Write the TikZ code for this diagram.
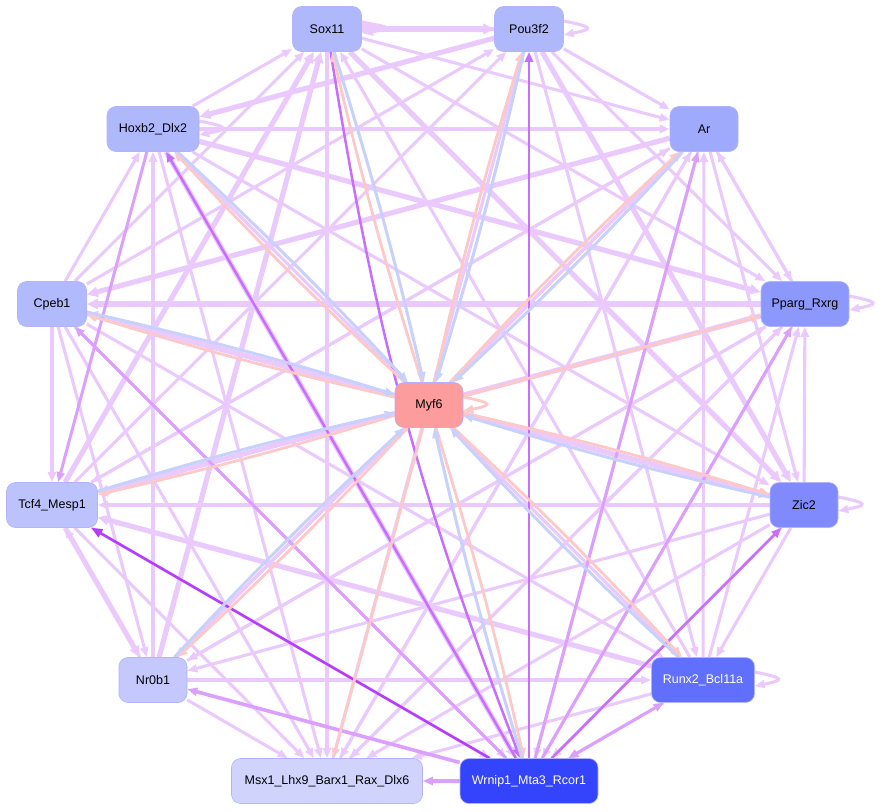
\documentclass[tikz,border=0pt]{standalone}
\usepackage{fontspec}
\setmainfont{Liberation Sans}
\usetikzlibrary{arrows.meta}
\pgfdeclarelayer{background}
\pgfsetlayers{background,main}
\definecolor{lav}{RGB}{234,202,252}
\definecolor{midpurp}{RGB}{220,160,252}
\definecolor{purp}{RGB}{200,110,252}
\definecolor{darkpurp}{RGB}{180,60,250}
\definecolor{pinkedge}{RGB}{252,200,200}
\definecolor{blueedge}{RGB}{200,208,252}
\begin{document}
\begin{tikzpicture}
  [x=1pt,y=-1pt
  ,block/.style={rectangle,rounded corners=9pt,draw=white!70!blue,line width=0.6pt,minimum height=45pt,inner sep=0pt,font=\fontsize{12.5}{14}\selectfont}
  ,lav/.style={draw=lav,line width=3.1pt,-{Triangle[length=10pt,width=8pt]}}
  ,lavthick/.style={draw=lav,line width=5.2pt,-{Triangle[length=11pt,width=10pt]}}
  ,midpurp/.style={draw=midpurp,line width=3pt,-{Triangle[length=10pt,width=8pt]}}
  ,purp/.style={draw=purp,line width=2.5pt,-{Triangle[length=10pt,width=8pt]}}
  ,darkpurp/.style={draw=darkpurp,line width=2.5pt,-{Triangle[length=11pt,width=9pt]}}
  ,pinkedge/.style={draw=pinkedge,line width=2.8pt,-{Triangle[length=10pt,width=8pt]}}
  ,blueedge/.style={draw=blueedge,line width=3pt,-{Triangle[length=10pt,width=8pt]}}]
\useasboundingbox (0,0) rectangle (880,811);
\node at (327,29)  (sox)   [block,minimum width=69pt,fill={rgb,255:red,176;green,184;blue,252}] {Sox11};
\node at (529,29)  (pou)   [block,minimum width=69pt,fill={rgb,255:red,176;green,184;blue,252}] {Pou3f2};
\node at (704,129) (ar)    [block,minimum width=68pt,fill={rgb,255:red,160;green,170;blue,252}] {Ar};
\node at (153,129) (hox)   [block,minimum width=92pt,fill={rgb,255:red,176;green,184;blue,252}] {Hoxb2\_Dlx2};
\node at (52,304)  (cpeb)  [block,minimum width=69pt,fill={rgb,255:red,176;green,186;blue,252}] {Cpeb1};
\node at (805,304) (pparg) [block,minimum width=88pt,fill={rgb,255:red,140;green,152;blue,252}] {Pparg\_Rxrg};
\node at (429,405) (myf)   [block,minimum width=68pt,fill={rgb,255:red,252;green,156;blue,156}] {Myf6};
\node at (52,505)  (tcf)   [block,minimum width=91pt,fill={rgb,255:red,188;green,194;blue,252}] {Tcf4\_Mesp1};
\node at (804,505) (zic)   [block,minimum width=68pt,fill={rgb,255:red,128;green,138;blue,252}] {Zic2};
\node at (153,680) (nr)    [block,minimum width=68pt,fill={rgb,255:red,196;green,200;blue,252}] {Nr0b1};
\node at (703,680) (runx)  [block,minimum width=103pt,fill={rgb,255:red,96;green,112;blue,252},text=white] {Runx2\_Bcl11a};
\node at (327,781) (msx)   [block,minimum width=191pt,fill={rgb,255:red,208;green,212;blue,252}] {Msx1\_Lhx9\_Barx1\_Rax\_Dlx6};
\node at (529,781) (wrn)   [block,minimum width=138pt,fill={rgb,255:red,52;green,68;blue,252},text=white] {Wrnip1\_Mta3\_Rcor1};
%
\begin{pgfonlayer}{background}
\foreach \a/\b in {pou/sox,hox/sox,cpeb/sox,runx/sox,sox/msx,sox/ar,sox/pparg,
  pou/ar,pou/pparg,pou/runx,cpeb/pou,tcf/pou,msx/pou,hox/ar,hox/zic,hox/runx,
  cpeb/hox,nr/hox,hox/msx,ar/tcf,ar/pparg,pparg/ar,ar/zic,ar/nr,ar/msx,runx/ar,
  pparg/nr,pparg/msx,zic/pparg,runx/pparg,zic/tcf,zic/nr,zic/msx,zic/runx,
  nr/runx,runx/msx,cpeb/tcf,cpeb/nr,cpeb/msx,cpeb/runx,nr/tcf,tcf/msx,nr/msx,
  nr/ar,msx/ar,msx/pparg,nr/pparg,tcf/ar,ar/wrn,pparg/wrn,zic/wrn,cpeb/wrn,
  tcf/wrn,runx/wrn}
  \draw [lav] (\a) -- (\b);
\foreach \a/\b in {sox/pou,tcf/sox,nr/sox,sox/zic,pou/zic,pou/hox,hox/pparg,
  ar/cpeb,pparg/cpeb,pparg/tcf,zic/cpeb,runx/tcf,cpeb/zic,tcf/nr,hox/wrn}
  \draw [lavthick] (\a) -- (\b);
% self loops
\draw [lavthick] ([yshift=6pt]sox.east) .. controls +(28,6) and +(28,-6) .. ([yshift=-4pt]sox.east);
\foreach \n in {pou,hox,pparg,zic,runx}
  \draw [lav] ([yshift=8pt]\n.east) .. controls +(30,6) and +(30,-6) .. ([yshift=-6pt]\n.east);
%
\draw [midpurp] (hox) -- (tcf);
\draw [midpurp] (wrn) -- (cpeb);
\draw [midpurp] (wrn) -- (ar);
\draw [midpurp] (wrn) -- (pparg);
\draw [midpurp,line width=3.6pt] (wrn) -- (nr);
\draw [midpurp,{Triangle[length=10pt,width=8pt]}-{Triangle[length=10pt,width=8pt]}] (wrn) -- (runx);
\draw [purp] (sox) to [bend right=6] (wrn);
\draw [purp] (wrn) -- (hox);
\draw [purp] (wrn) -- (pou);
\draw [purp] (wrn) -- (zic);
\draw [midpurp,line width=4pt] (wrn) -- (msx);
\draw [darkpurp] (wrn) -- (tcf);
%
\foreach \n in {sox,pou,ar,hox,cpeb,tcf,zic,runx,nr,wrn}
  {\draw [pinkedge] (myf) to [bend left=2] (\n);
   \draw [blueedge] (\n) to [bend left=2] (myf);}
\draw [pinkedge] (myf) -- (pparg);
\draw [pinkedge] (myf) -- (msx);
\draw [pinkedge] ([yshift=8pt]myf.east) .. controls +(30,6) and +(30,-6) .. ([yshift=-6pt]myf.east);
\end{pgfonlayer}
\end{tikzpicture}
\end{document}
